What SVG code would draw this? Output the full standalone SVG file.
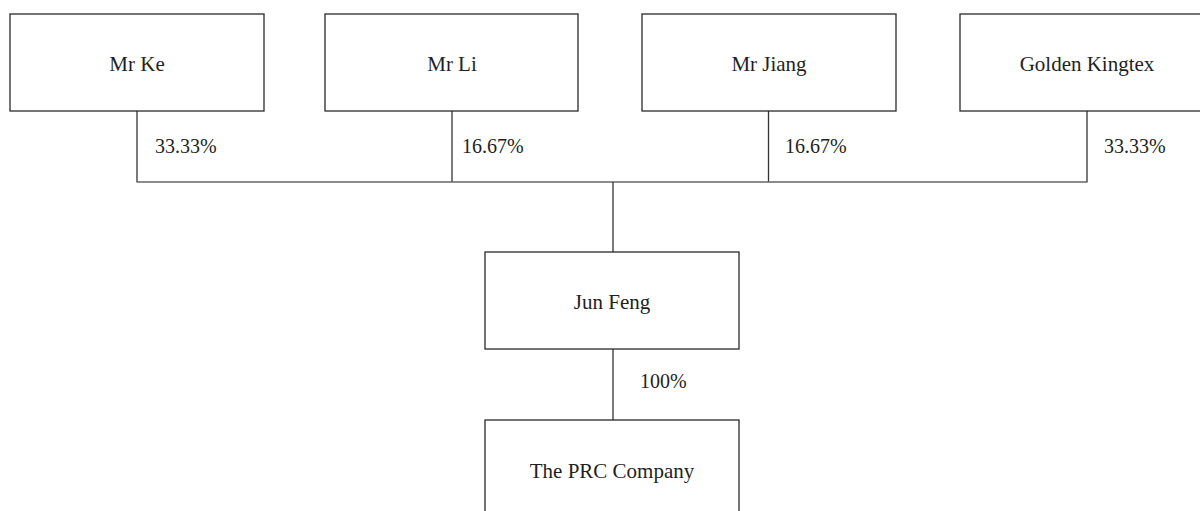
<svg xmlns="http://www.w3.org/2000/svg" width="1200" height="511" viewBox="0 0 1200 511">
<style>
.box{fill:#fff;stroke:#2a2a2a;stroke-width:1.3}
.lbl{font-family:"Liberation Serif","Times New Roman",serif;font-size:21px;fill:#231f20;text-anchor:middle}
.pct{font-family:"Liberation Serif","Times New Roman",serif;font-size:20px;fill:#231f20}
.ln{stroke:#333;stroke-width:1.3;fill:none}
.hl{stroke:#666;stroke-width:1.5;fill:none}
</style>
<rect width="1200" height="511" fill="#fff"/>
<g id="connectors">
<line class="ln" x1="137" y1="111" x2="137" y2="182"/>
<line class="ln" x1="452" y1="111" x2="452" y2="182"/>
<line class="ln" x1="768.5" y1="111" x2="768.5" y2="182"/>
<line class="ln" x1="1087" y1="111" x2="1087" y2="182"/>
<line class="hl" x1="136.5" y1="182" x2="1087.5" y2="182"/>
<line class="ln" x1="613" y1="182" x2="613" y2="252"/>
<line class="ln" x1="613" y1="349" x2="613" y2="420"/>
<text class="pct" x="155" y="153">33.33%</text>
<text class="pct" x="462" y="153">16.67%</text>
<text class="pct" x="785" y="153">16.67%</text>
<text class="pct" x="1104" y="153">33.33%</text>
<text class="pct" x="640" y="388">100%</text>
</g>
<g id="mr-ke">
<rect class="box" x="10" y="14" width="254" height="97"/>
<text class="lbl" x="137" y="70.5">Mr Ke</text>
</g>
<g id="mr-li">
<rect class="box" x="325" y="14" width="253" height="97"/>
<text class="lbl" x="452" y="70.5">Mr Li</text>
</g>
<g id="mr-jiang">
<rect class="box" x="642" y="14" width="254" height="97"/>
<text class="lbl" x="769" y="70.5">Mr Jiang</text>
</g>
<g id="golden-kingtex">
<rect class="box" x="960" y="14" width="254" height="97"/>
<text class="lbl" x="1087" y="70.5">Golden Kingtex</text>
</g>
<g id="jun-feng">
<rect class="box" x="485" y="252" width="254" height="97"/>
<text class="lbl" x="612" y="309">Jun Feng</text>
</g>
<g id="prc-company">
<rect class="box" x="485" y="420" width="254" height="97"/>
<text class="lbl" x="612" y="478">The PRC Company</text>
</g>
</svg>
